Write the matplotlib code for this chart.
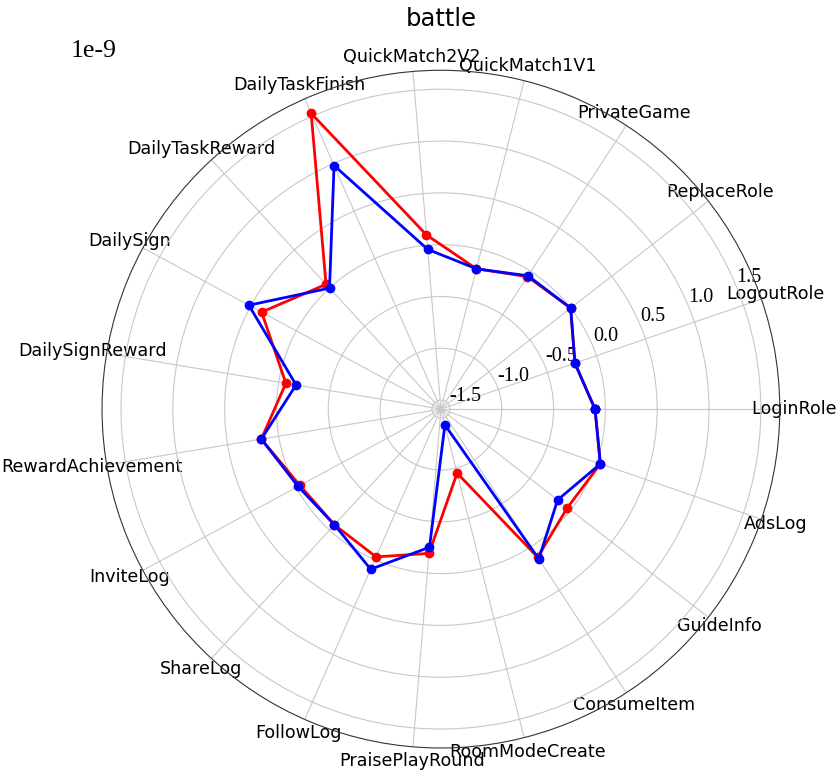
import numpy as np
import matplotlib
matplotlib.use("Agg")
import matplotlib.pyplot as plt

plt.rcParams["axes.unicode_minus"] = False

# categories, counter-clockwise starting from 0 degrees
categories = [
    "LoginRole", "LogoutRole", "ReplaceRole", "PrivateGame", "QuickMatch1V1",
    "QuickMatch2V2", "DailyTaskFinish", "DailyTaskReward", "DailySign",
    "DailySignReward", "RewardAchievement", "InviteLog", "ShareLog",
    "FollowLog", "PraisePlayRound", "RoomModeCreate", "ConsumeItem",
    "GuideInfo", "AdsLog",
]

# values in units of 1e-9
red_vals = [
    -0.10, -0.22, 0.00, -0.06, -0.19,
    0.10, 1.53, 0.05, 0.38,
    -0.07, 0.17, -0.04, -0.07,
    -0.03, -0.19, -0.95, 0.12,
    -0.04, 0.04,
]
blue_vals = [
    -0.10, -0.22, 0.00, -0.05, -0.19,
    -0.04, 0.98, 0.00, 0.52,
    -0.17, 0.17, -0.02, -0.07,
    0.10, -0.25, -1.43, 0.14,
    -0.16, 0.04,
]
scale = 1e-9

n = len(categories)
angles = np.linspace(0, 2 * np.pi, n, endpoint=False)
angles_closed = np.concatenate([angles, angles[:1]])
red = np.array(red_vals + red_vals[:1]) * scale
blue = np.array(blue_vals + blue_vals[:1]) * scale

fig = plt.figure(figsize=(8.4, 7.79), dpi=100)
ax = fig.add_axes([0.1214, 0.0398, 0.807, 0.870], projection="polar")

ax.plot(angles_closed, red, color="red", linewidth=2, marker="o", markersize=6)
ax.plot(angles_closed, blue, color="blue", linewidth=2, marker="o", markersize=6)

ax.set_xticks(angles)
ax.set_xticklabels(categories, fontsize=12.6)
ax.tick_params(axis="x", pad=0)
ax.set_ylim(-1.587 * scale, 1.683 * scale)
ax.set_yticks(np.arange(-1.5, 1.51, 0.5) * scale)
ax.tick_params(axis="y", labelsize=14.5, labelfontfamily="Liberation Serif")
ax.grid(color="#c8c8c8", linewidth=0.8)
ax.spines["polar"].set_color("#333333")

# scale factor shown at the top left, like the reference
ax.yaxis.get_offset_text().set_visible(False)
fig.text(0.0845, 0.9265, "1e-9", fontsize=18.5, family="Liberation Serif",
         va="baseline", ha="left")

ax.set_title("battle", fontsize=17.5, y=1.066, pad=0)

fig.savefig("out.png", dpi=100)
